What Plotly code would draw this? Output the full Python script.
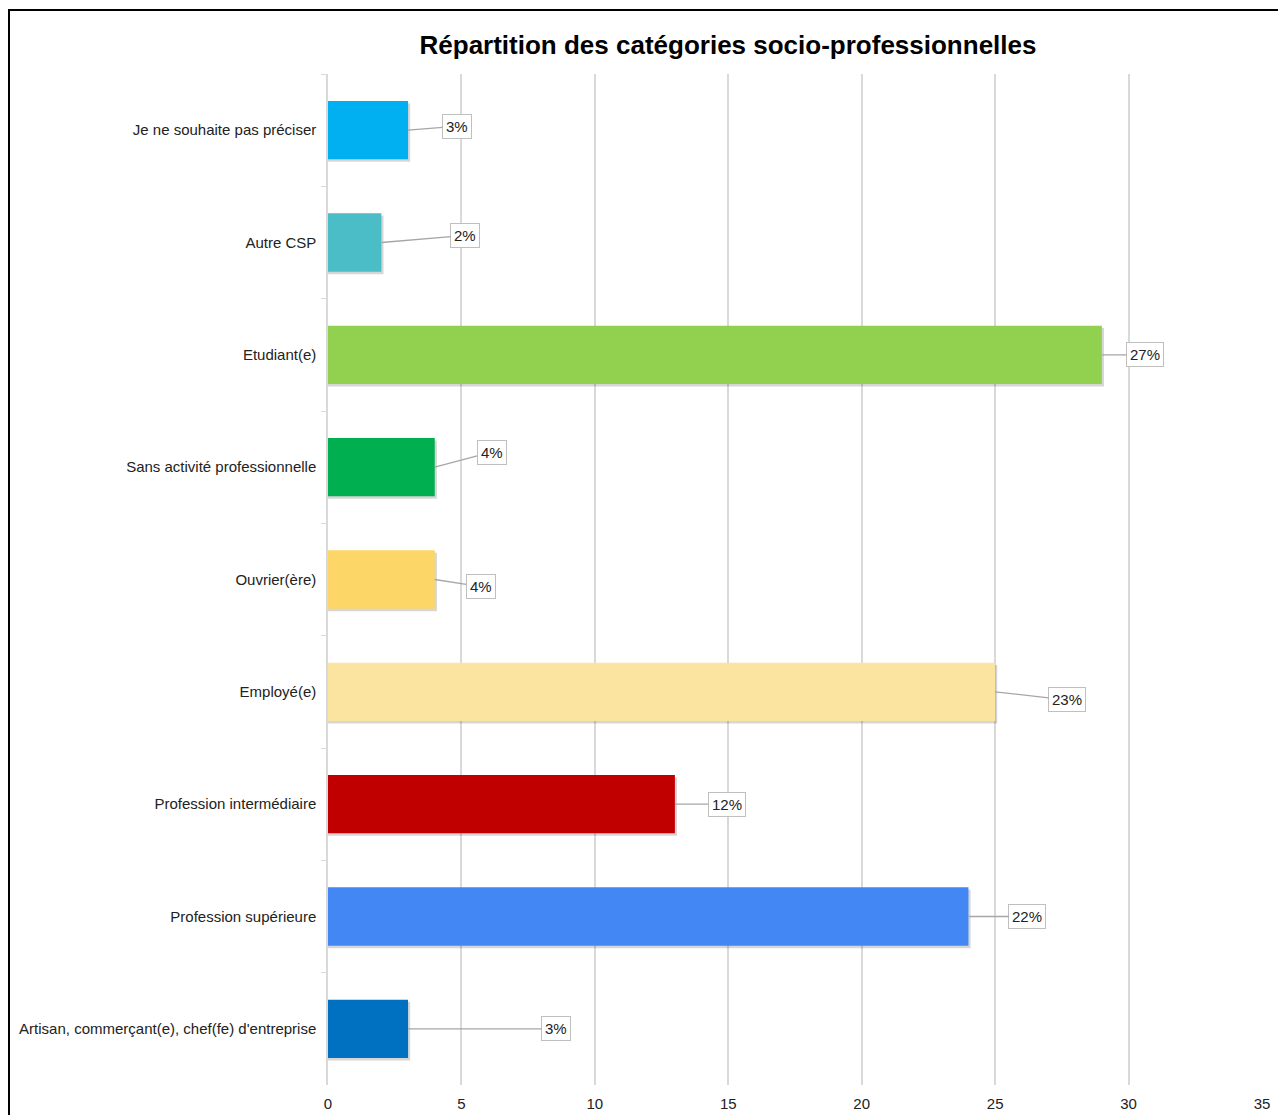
import plotly.graph_objects as go

categories = [
    "Je ne souhaite pas préciser",
    "Autre CSP",
    "Etudiant(e)",
    "Sans activité professionnelle",
    "Ouvrier(ère)",
    "Employé(e)",
    "Profession intermédiaire",
    "Profession supérieure",
    "Artisan, commerçant(e), chef(fe) d'entreprise",
]
counts = [3, 2, 29, 4, 4, 25, 13, 24, 3]
pct_labels = ["3%", "2%", "27%", "4%", "4%", "23%", "12%", "22%", "3%"]
x_ticks = [0, 5, 10, 15, 20, 25, 30, 35]

colors = ["#00B0F0", "#4BBDC6", "#92D050", "#00B050", "#FDD668",
          "#FBE4A0", "#C00000", "#4387F4", "#0070C0"]
# label offsets in pixels (style only)
label_offsets = [(49, -4), (84, -7), (43, 0), (57, -15), (46, 7),
                 (72, 8), (52, 0), (59, 0), (148, 0)]

BAR_W = 0.52

fig = go.Figure()
# soft drop shadow
fig.add_trace(go.Bar(
    y=categories, x=[c + 0.08 for c in counts], orientation="h",
    marker=dict(color="rgba(0,0,0,0.16)", line=dict(width=0)),
    width=BAR_W, offset=-BAR_W / 2 + 0.022,
    showlegend=False, hoverinfo="skip",
))
fig.add_trace(go.Bar(
    y=categories, x=counts, orientation="h",
    marker=dict(color=colors, line=dict(width=0)),
    width=BAR_W, offset=-BAR_W / 2,
    showlegend=False, hoverinfo="skip",
))

for cat, v, lab, (ax, ay) in zip(categories, counts, pct_labels, label_offsets):
    fig.add_annotation(
        x=v, y=cat, xref="x", yref="y", text=lab,
        showarrow=True, arrowhead=0, arrowwidth=1.3, arrowcolor="#A6A6A6",
        ax=ax, ay=ay, standoff=0, startstandoff=0,
        font=dict(family="Liberation Sans, Arial", size=15, color="#222222"),
        bordercolor="#BFBFBF", borderwidth=1, borderpad=3, bgcolor="white",
    )

# outer frame
fig.add_shape(type="rect", xref="paper", yref="paper",
              x0=(9 - 328) / 934, x1=1.2, y0=-0.2, y1=1 + (74 - 10) / 1011,
              line=dict(color="black", width=2), fillcolor="rgba(0,0,0,0)",
              layer="above")

fig.update_layout(
    width=1278, height=1115,
    margin=dict(l=328, r=16, t=74, b=30),
    paper_bgcolor="white", plot_bgcolor="white",
    barmode="overlay",
    title=dict(text="<b>Répartition des catégories socio-professionnelles</b>",
               x=728 / 1278, xref="container", xanchor="center",
               y=1 - 45 / 1115, yref="container", yanchor="middle",
               font=dict(family="Liberation Sans, Arial", size=26, color="#000000")),
    font=dict(family="Liberation Sans, Arial", size=15, color="#222222"),
    xaxis=dict(range=[0, 35], tickvals=x_ticks, ticktext=[str(t) for t in x_ticks],
               showgrid=True, gridcolor="#D9D9D9", gridwidth=1.5,
               zeroline=False, showline=False, ticks="", ticklabelstandoff=8,
               automargin=False,
               tickfont=dict(size=15, color="#222222")),
    yaxis=dict(categoryorder="array", categoryarray=categories, autorange="reversed",
               showline=True, linecolor="#D9D9D9", linewidth=1.5,
               ticks="outside", tickson="boundaries", ticklen=5, tickcolor="#D9D9D9",
               showgrid=False, zeroline=False, ticklabelstandoff=7,
               automargin=False,
               tickfont=dict(size=15, color="#222222")),
)

fig.write_html("out.html")
